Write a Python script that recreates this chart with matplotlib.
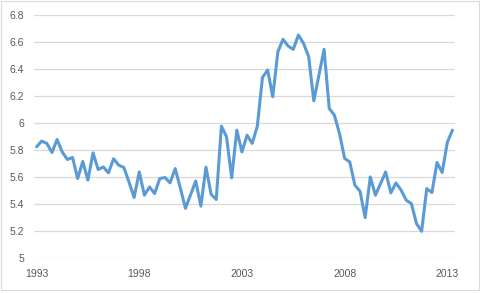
import matplotlib
matplotlib.use("Agg")
import matplotlib.pyplot as plt
from matplotlib.patches import Rectangle

values = [
    5.825, 5.867, 5.85, 5.783, 5.879, 5.787, 5.731, 5.746, 5.59, 5.716,
    5.578, 5.78, 5.657, 5.676, 5.632, 5.736, 5.689, 5.672, 5.565, 5.45,
    5.639, 5.467, 5.528, 5.479, 5.59, 5.598, 5.558, 5.664, 5.52, 5.37,
    5.47, 5.572, 5.386, 5.674, 5.473, 5.435, 5.978, 5.899, 5.595, 5.948,
    5.787, 5.911, 5.85, 5.978, 6.338, 6.393, 6.195, 6.528, 6.62, 6.57,
    6.546, 6.652, 6.59, 6.491, 6.165, 6.356, 6.546, 6.109, 6.059, 5.924,
    5.739, 5.713, 5.541, 5.496, 5.301, 5.602, 5.467, 5.553, 5.639, 5.484,
    5.558, 5.504, 5.43, 5.405, 5.257, 5.2, 5.516, 5.486, 5.709, 5.635,
    5.857, 5.948,
]
year_labels = ["1993", "1998", "2003", "2008", "2013"]
year_label_positions = [0, 20, 40, 60, 80]
y_ticks = [5.0, 5.2, 5.4, 5.6, 5.8, 6.0, 6.2, 6.4, 6.6, 6.8]
y_tick_labels = ["5", "5.2", "5.4", "5.6", "5.8", "6", "6.2", "6.4", "6.6", "6.8"]

plt.rcParams['font.family'] = ['Liberation Sans', 'DejaVu Sans']

fig = plt.figure(figsize=(4.8, 2.93), dpi=100)
ax = fig.add_axes([34/480, (293-258.3)/293, (455-34)/480, (258.3-15)/293])

ax.plot(range(len(values)), values, color='#5B9BD5', linewidth=2.2,
        solid_joinstyle='round', solid_capstyle='round', zorder=3)

ax.set_xlim(-0.5, len(values) - 0.5)
ax.set_ylim(5.0, 6.8)
ax.set_yticks(y_ticks)
ax.set_yticklabels(y_tick_labels)
ax.set_xticks(year_label_positions)
ax.set_xticklabels(year_labels)

for y in y_ticks:
    ax.axhline(y, color='#D9D9D9', linewidth=0.9, zorder=1)

for s in ax.spines.values():
    s.set_visible(False)
ax.tick_params(axis='both', length=0, labelsize=7.5, labelcolor='#595959')
ax.tick_params(axis='y', pad=7)
ax.tick_params(axis='x', pad=8)

fig.patches.append(Rectangle((0.5/480, 1 - 289.5/293), 478.5/480, 289/293,
                             transform=fig.transFigure, fill=False,
                             edgecolor='#D9D9D9', linewidth=0.8))

fig.savefig('out.png', dpi=100)
